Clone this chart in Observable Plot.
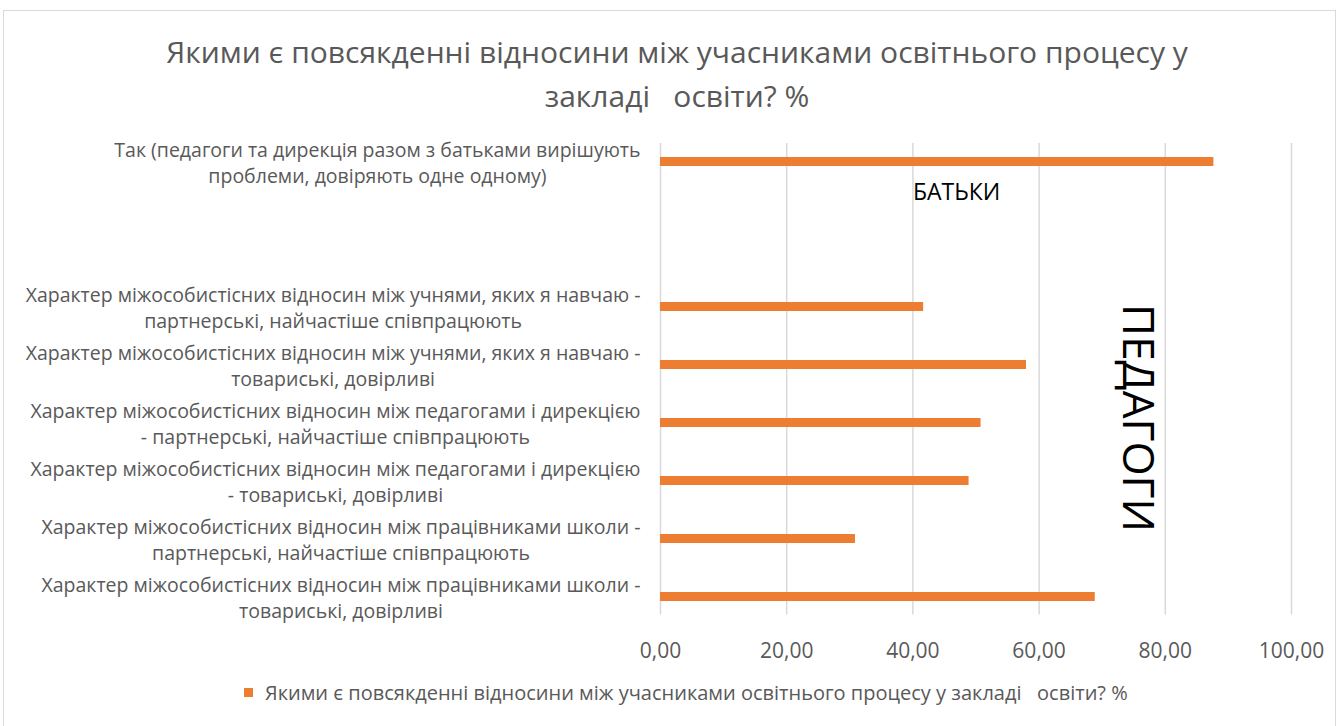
<!DOCTYPE html>
<html>
<head>
<meta charset="utf-8">
<script src="https://cdn.jsdelivr.net/npm/d3@7"></script>
<script src="https://cdn.jsdelivr.net/npm/@observablehq/plot@0.6"></script>
<style>
  html, body { margin: 0; padding: 0; background: #fff; }
  body { width: 1341px; height: 726px; overflow: hidden; position: relative; font-family: "Open Sans", sans-serif; }
  #frame { position: absolute; left: 3px; top: 10px; width: 1333px; height: 740px; border: 1px solid #d9d9d9; box-sizing: border-box; }
  #title { position: absolute; left: 0; top: 30px; width: 1354px; text-align: center; color: #595959; font-size: 30px; line-height: 44px; white-space: pre; }
  #chart { position: absolute; left: 0; top: 120px; }
  #legend { position: absolute; left: 244px; top: 679px; color: #595959; font-size: 20px; white-space: pre; display: flex; align-items: center; }
  #legend .sw { width: 9px; height: 9px; background: #ED7D31; margin-right: 12px; }
</style>
</head>
<body>
<div id="frame"></div>
<div id="title"></div>
<div id="chart"></div>
<div id="legend"></div>
<script>
const titleLines = ["Якими є повсякденні відносини між учасниками освітнього процесу у", "закладі   освіти? %"];
const seriesName = "Якими є повсякденні відносини між учасниками освітнього процесу у закладі   освіти? %";

const categories = [
  "Так (педагоги та дирекція разом з батьками вирішують\nпроблеми, довіряють одне одному)",
  "Характер міжособистісних відносин між учнями, яких я навчаю -\nпартнерські, найчастіше співпрацюють",
  "Характер міжособистісних відносин між учнями, яких я навчаю -\nтовариські, довірливі",
  "Характер міжособистісних відносин між педагогами і дирекцією\n- партнерські, найчастіше співпрацюють",
  "Характер міжособистісних відносин між педагогами і дирекцією\n- товариські, довірливі",
  "Характер міжособистісних відносин між працівниками школи -\nпартнерські, найчастіше співпрацюють",
  "Характер міжособистісних відносин між працівниками школи -\nтовариські, довірливі"
];
const values = [87.7, 41.7, 58.0, 50.8, 48.9, 30.9, 68.9];
const xTicks = [0, 20, 40, 60, 80, 100];
const groupLabels = ["БАТЬКИ", "ПЕДАГОГИ"];

// category slots (blank spacer slots keep Excel's spacing)
const yDomain = [categories[0], "_g1", "_g2", "_g3", "_g4",
  ...categories.slice(1).flatMap((c, i) => i === 0 ? [c] : ["_s" + i, c])];

const rows = categories.map((c, i) => ({category: c, value: values[i]}));
const notes = [
  {text: groupLabels[0], x: 40, y: yDomain[1], rotate: 0},
  {text: groupLabels[1], x: 75.5, y: categories[3], rotate: 90}
];

const fmt = d => d3.format(".2f")(d).replace(".", ",");

document.getElementById("title").textContent = titleLines.join("\n");
const leg = document.getElementById("legend");
leg.innerHTML = '<span class="sw"></span><span></span>';
leg.lastChild.textContent = seriesName;

const chart = Plot.plot({
  width: 1341,
  height: 556,
  marginTop: 23,
  marginBottom: 61.5,
  marginLeft: 660,
  marginRight: 50,
  style: {fontFamily: "Open Sans, sans-serif", fontSize: "19.5px", color: "#595959", background: "transparent", overflow: "visible"},
  x: {domain: [0, 100]},
  y: {domain: yDomain, padding: 0},
  marks: [
    Plot.gridX(xTicks, {stroke: "#d9d9d9", strokeOpacity: 1, strokeWidth: 1.5}),
    Plot.axisX(xTicks, {tickSize: 0, tickPadding: 28, tickFormat: fmt, fill: "#595959", fontSize: 21, label: null}),
    Plot.axisY(categories, {tickSize: 0, tickPadding: 20, fill: "#595959", fontSize: 19.5, lineHeight: 1.33, label: null}),
    Plot.barX(rows, {x: "value", y: "category", fill: "#ED7D31", insetTop: 10, insetBottom: 10}),
    Plot.text(notes.filter(d => d.rotate === 0), {x: "x", y: "y", text: "text", fill: "#000", fontSize: 23, textAnchor: "start", dy: 2}),
    Plot.text(notes.filter(d => d.rotate === 90), {x: "x", y: "y", text: "text", fill: "#000", fontSize: 44, rotate: 90, textAnchor: "middle", dy: -5})
  ]
});
document.getElementById("chart").appendChild(chart);

// center each multi-line tick label on itself, keeping the block right-aligned
chart.querySelectorAll('g[aria-label="y-axis tick label"] text').forEach(t => {
  const w = t.getBBox().width;
  t.setAttribute("text-anchor", "middle");
  t.setAttribute("transform", (t.getAttribute("transform") || "") + ` translate(${-w / 2},0)`);
});
</script>
</body>
</html>
